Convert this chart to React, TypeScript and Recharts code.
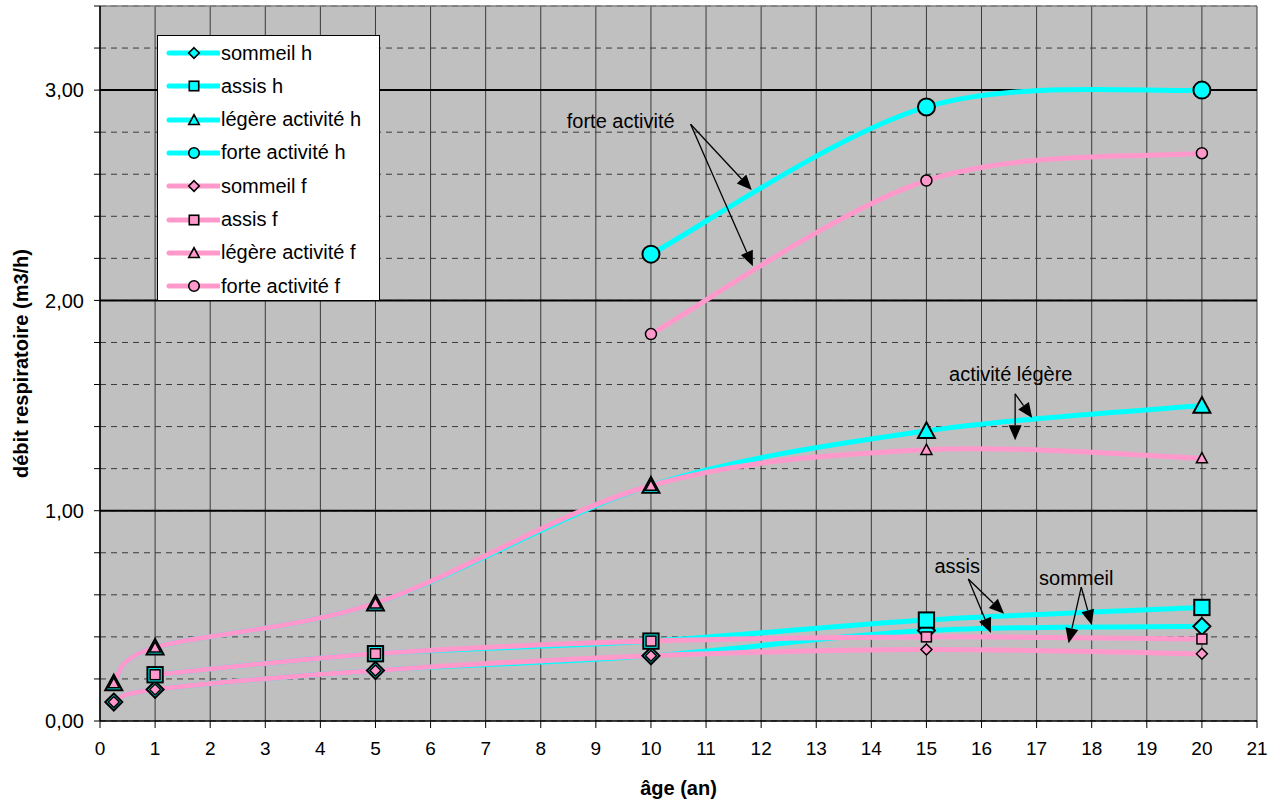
import React from "react";
import {
  LineChart,
  Line,
  XAxis,
  YAxis,
  CartesianGrid,
  ReferenceLine,
  Legend,
} from "recharts";

// ages (years) and respiratory rate values (m3/h)
const ages = [0.25, 1, 5, 10, 15, 20];
const sommeilH = [0.09, 0.15, 0.24, 0.31, 0.43, 0.45];
const assisH = [null, 0.22, 0.32, 0.38, 0.48, 0.54];
const legereH = [0.18, 0.35, 0.56, 1.12, 1.38, 1.5];
const forteH = [null, null, null, 2.22, 2.92, 3.0];
const sommeilF = [0.09, 0.15, 0.24, 0.31, 0.34, 0.32];
const assisF = [null, 0.22, 0.32, 0.38, 0.4, 0.39];
const legereF = [0.18, 0.35, 0.56, 1.12, 1.29, 1.25];
const forteF = [null, null, null, 1.84, 2.57, 2.7];

const xTicks = [0, 1, 2, 3, 4, 5, 6, 7, 8, 9, 10, 11, 12, 13, 14, 15, 16, 17, 18, 19, 20, 21];
const yTicks = [0, 0.2, 0.4, 0.6, 0.8, 1, 1.2, 1.4, 1.6, 1.8, 2, 2.2, 2.4, 2.6, 2.8, 3, 3.2, 3.4];
const yMajor = [1, 2, 3];

const CYAN = "#00FFFF";
const PINK = "#FF99CC";
const FONT = "'Liberation Sans', Arial, sans-serif";

// chart geometry
const W = 1281;
const H = 800;
const Y_W = 100;
const X_H = 79;
const MARGIN = { top: 6, right: 24, left: 0, bottom: 0 };
const PLOT = { left: Y_W, top: MARGIN.top, right: W - MARGIN.right, bottom: H - X_H };
const X_MAX = 21;
const Y_MAX = 3.4;

const series = [
  { name: "sommeil h", values: sommeilH, color: CYAN, shape: "diamond", big: true },
  { name: "assis h", values: assisH, color: CYAN, shape: "square", big: true },
  { name: "légère activité h", values: legereH, color: CYAN, shape: "triangle", big: true },
  { name: "forte activité h", values: forteH, color: CYAN, shape: "circle", big: true },
  { name: "sommeil f", values: sommeilF, color: PINK, shape: "diamond", big: false },
  { name: "assis f", values: assisF, color: PINK, shape: "square", big: false },
  { name: "légère activité f", values: legereF, color: PINK, shape: "triangle", big: false },
  { name: "forte activité f", values: forteF, color: PINK, shape: "circle", big: false },
];

// text annotations with arrows, in data units
const notes = [
  { text: "forte activité", tx: 9.45, ty: 2.822, ox: 10.72, oy: 2.838, tips: [[11.83, 2.525], [11.85, 2.163]] },
  { text: "activité légère", tx: 16.53, ty: 1.616, ox: 16.61, oy: 1.556, tips: [[16.92, 1.441], [16.61, 1.335]] },
  { text: "assis", tx: 15.56, ty: 0.706, ox: 15.76, oy: 0.675, tips: [[16.41, 0.51], [16.17, 0.418]] },
  { text: "sommeil", tx: 17.72, ty: 0.648, ox: 17.81, oy: 0.637, tips: [[18.0, 0.457], [17.58, 0.37]] },
];

// Excel-like smoothed line (Catmull-Rom through the points)
const excelCurve: any = (context: any) => {
  let pts: number[][] = [];
  return {
    areaStart() {},
    areaEnd() {},
    lineStart() {
      pts = [];
    },
    point(x: number, y: number) {
      pts.push([+x, +y]);
    },
    lineEnd() {
      const n = pts.length;
      if (!n) return;
      context.moveTo(pts[0][0], pts[0][1]);
      for (let i = 0; i < n - 1; i++) {
        const p0 = pts[Math.max(i - 1, 0)];
        const p1 = pts[i];
        const p2 = pts[i + 1];
        const p3 = pts[Math.min(i + 2, n - 1)];
        context.bezierCurveTo(
          p1[0] + (p2[0] - p0[0]) / 6,
          p1[1] + (p2[1] - p0[1]) / 6,
          p2[0] - (p3[0] - p1[0]) / 6,
          p2[1] - (p3[1] - p1[1]) / 6,
          p2[0],
          p2[1]
        );
      }
    },
  };
};

function Marker({ cx, cy, shape, size, fill, sw }: any) {
  if (cx == null || cy == null) return null;
  const h = size / 2;
  const common = { fill, stroke: "#000", strokeWidth: sw };
  if (shape === "diamond") {
    return <polygon points={`${cx},${cy - h} ${cx + h},${cy} ${cx},${cy + h} ${cx - h},${cy}`} {...common} />;
  }
  if (shape === "square") {
    return <rect x={cx - h * 0.9} y={cy - h * 0.9} width={h * 1.8} height={h * 1.8} {...common} />;
  }
  if (shape === "triangle") {
    return (
      <polygon
        points={`${cx},${cy - h} ${cx + h},${cy + h * 0.85} ${cx - h},${cy + h * 0.85}`}
        strokeLinejoin="miter"
        {...common}
      />
    );
  }
  return <circle cx={cx} cy={cy} r={h} {...common} />;
}

function LegendBox() {
  return (
    <div
      style={{
        width: 223,
        height: 266,
        boxSizing: "border-box",
        border: "1.5px solid #000",
        background: "#fff",
        position: "relative",
        fontFamily: FONT,
      }}
    >
      {series.map((s, i) => (
        <div
          key={s.name}
          style={{
            position: "absolute",
            left: 0,
            top: 17 + i * 33.3 - 13,
            height: 26,
            display: "flex",
            alignItems: "center",
            whiteSpace: "nowrap",
          }}
        >
          <svg width={62} height={26} style={{ display: "block" }}>
            <line x1={11} x2={61} y1={13} y2={13} stroke={s.color} strokeWidth={5} strokeLinecap="round" />
            <Marker cx={36} cy={13} shape={s.shape} size={10.5} fill={s.color} sw={1.6} />
          </svg>
          <span style={{ fontSize: 20, color: "#000", marginLeft: 1 }}>{s.name}</span>
        </div>
      ))}
    </div>
  );
}

const px = (x: number) => PLOT.left + (x / X_MAX) * (PLOT.right - PLOT.left);
const py = (y: number) => PLOT.bottom - (y / Y_MAX) * (PLOT.bottom - PLOT.top);

function Arrow({ x1, y1, x2, y2 }: any) {
  const dx = x2 - x1;
  const dy = y2 - y1;
  const len = Math.sqrt(dx * dx + dy * dy);
  const ux = dx / len;
  const uy = dy / len;
  const hl = 15;
  const hw = 6.5;
  const bx = x2 - ux * hl;
  const by = y2 - uy * hl;
  return (
    <g>
      <line x1={x1} y1={y1} x2={bx} y2={by} stroke="#000" strokeWidth={1.3} />
      <polygon
        points={`${x2},${y2} ${bx - uy * hw},${by + ux * hw} ${bx + uy * hw},${by - ux * hw}`}
        fill="#000"
      />
    </g>
  );
}

function Annotations() {
  return (
    <svg
      width={W}
      height={H}
      style={{ position: "absolute", left: 0, top: 0, pointerEvents: "none" }}
    >
      {notes.map((n) => (
        <g key={n.text}>
          <text x={px(n.tx)} y={py(n.ty)} textAnchor="middle" fontSize={20} fontFamily={FONT} fill="#000">
            {n.text}
          </text>
          {n.tips.map((t, j) => (
            <Arrow key={j} x1={px(n.ox)} y1={py(n.oy)} x2={px(t[0])} y2={py(t[1])} />
          ))}
        </g>
      ))}
    </svg>
  );
}

const fmtY = (v: number) => (Math.abs(v - Math.round(v)) < 1e-6 ? v.toFixed(2).replace(".", ",") : "");

export default function App() {
  return (
    <div style={{ position: "absolute", left: 0, top: 0, width: W, height: H, background: "#fff", fontFamily: FONT }}>
      <LineChart width={W} height={H} margin={MARGIN} style={{ fontFamily: FONT }}>
        <CartesianGrid
          vertical={false}
          fill="#C0C0C0"
          stroke="#3a3a3a"
          strokeDasharray="6 5"
        />
        <CartesianGrid horizontal={false} stroke="#3a3a3a" />
        {yMajor.map((v) => (
          <ReferenceLine key={v} y={v} stroke="#000" strokeWidth={2} />
        ))}
        <ReferenceLine y={Y_MAX} stroke="#808080" strokeWidth={1.5} />
        <XAxis
          type="number"
          dataKey="x"
          domain={[0, X_MAX]}
          ticks={xTicks}
          interval={0}
          height={X_H}
          allowDataOverflow
          tick={{ fontSize: 19, fill: "#000", fontFamily: FONT }}
          tickSize={7}
          tickMargin={14}
          stroke="#000"
          axisLine={{ stroke: "#000", strokeWidth: 1.5 }}
          tickLine={{ stroke: "#000" }}
          label={{
            content: (p: any) => (
              <text
                x={p.viewBox.x + p.viewBox.width / 2}
                y={p.viewBox.y + 74}
                textAnchor="middle"
                fontSize={20}
                fontWeight="bold"
                fontFamily={FONT}
                fill="#000"
              >
                âge (an)
              </text>
            ),
          }}
        />
        <YAxis
          type="number"
          domain={[0, Y_MAX]}
          ticks={yTicks}
          interval={0}
          width={Y_W}
          allowDataOverflow
          tickFormatter={fmtY}
          tick={{ fontSize: 20, fill: "#000", fontFamily: FONT }}
          tickSize={6}
          tickMargin={10}
          axisLine={{ stroke: "#000", strokeWidth: 1.5 }}
          tickLine={{ stroke: "#000" }}
          label={{
            content: (p: any) => {
              const x = 28;
              const y = p.viewBox.y + p.viewBox.height / 2;
              return (
                <text
                  x={x}
                  y={y}
                  transform={`rotate(-90 ${x} ${y})`}
                  textAnchor="middle"
                  fontSize={20}
                  fontWeight="bold"
                  fontFamily={FONT}
                  fill="#000"
                >
                  débit respiratoire (m3/h)
                </text>
              );
            },
          }}
        />
        <Legend
          layout="vertical"
          align="center"
          verticalAlign="middle"
          content={() => <LegendBox />}
          wrapperStyle={{ left: 157, top: 35, width: 223, height: 266 }}
        />
        {series.map((s) => {
          const data = ages
            .map((a, i) => ({ x: a, y: s.values[i] }))
            .filter((d) => d.y != null);
          return (
            <Line
              key={s.name}
              name={s.name}
              data={data}
              dataKey="y"
              type={excelCurve}
              stroke={s.color}
              strokeWidth={5}
              isAnimationActive={false}
              activeDot={false}
              legendType="none"
              dot={(p: any) => (
                <Marker
                  key={`${s.name}-${p.index}`}
                  cx={p.cx}
                  cy={p.cy}
                  shape={s.shape}
                  size={s.big ? 17 : 11}
                  fill={s.color}
                  sw={s.big ? 2 : 1.5}
                />
              )}
            />
          );
        })}
      </LineChart>
      <Annotations />
    </div>
  );
}
